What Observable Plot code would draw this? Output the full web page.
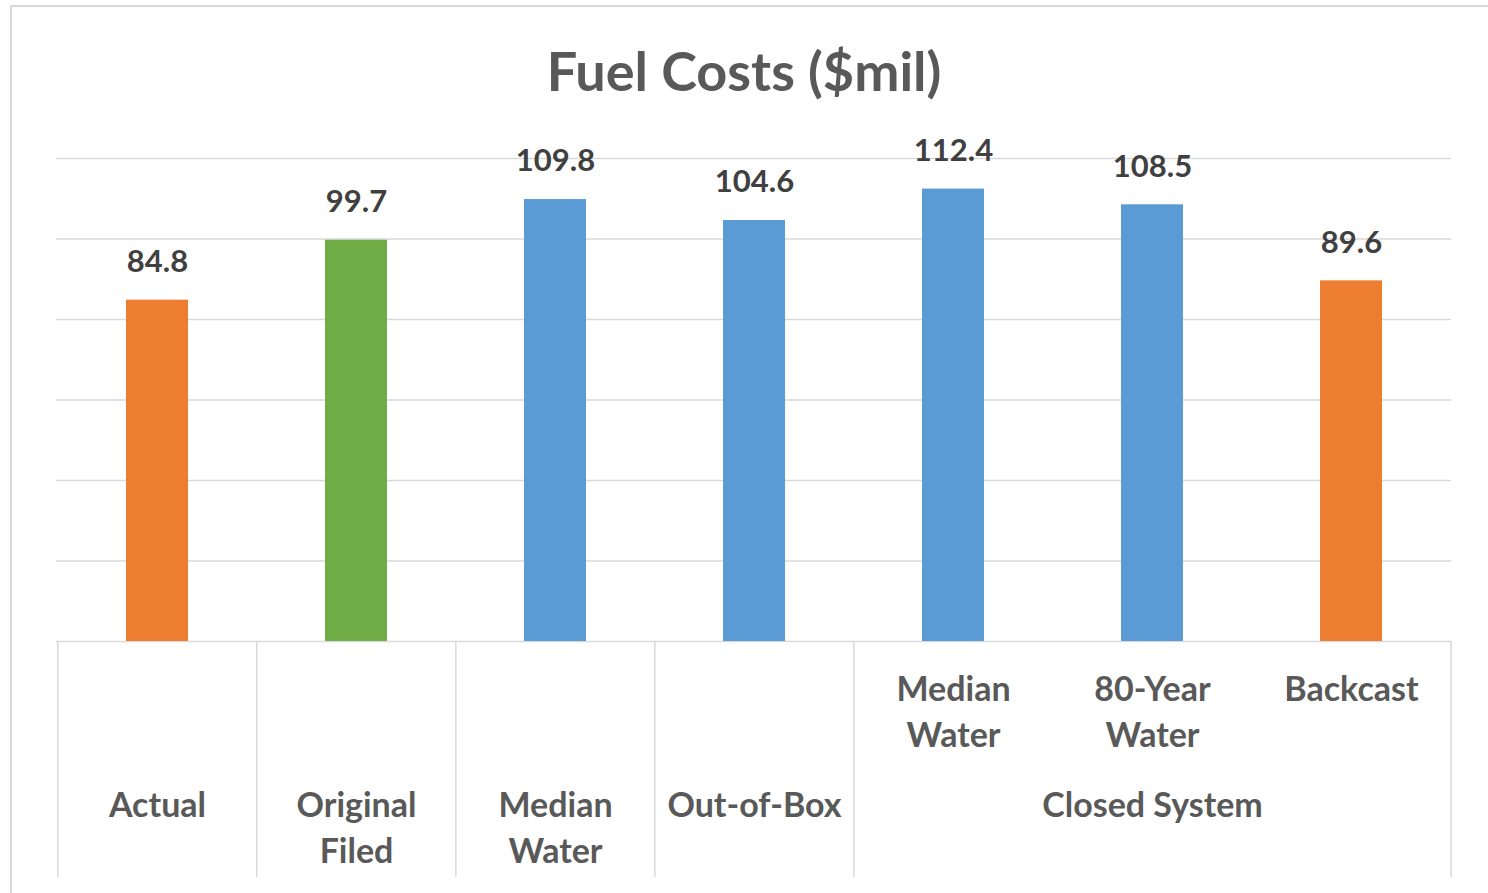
<!DOCTYPE html>
<html>
<head>
<meta charset="utf-8">
<script src="https://cdn.jsdelivr.net/npm/d3@7"></script>
<script src="https://cdn.jsdelivr.net/npm/@observablehq/plot@0.6"></script>
<style>
  html, body { margin: 0; padding: 0; background: #fff; overflow: hidden; }
  #frame {
    position: absolute; left: 10px; top: 5px; width: 1500px; height: 900px;
    border: 2px solid #d9d9d9; box-sizing: border-box; z-index: 2; pointer-events: none;
  }
  #title {
    position: absolute; left: 0; top: 0; width: 1488px; height: 120px;
    display: flex; align-items: center; justify-content: center;
    font-family: Lato, "Open Sans", sans-serif; font-size: 54px; font-weight: 700;
    color: #595959; padding-top: 20px; box-sizing: border-box;
  }
  #chart { position: absolute; left: 0; top: 120px; }
</style>
</head>
<body>
<div id="frame"></div>
<div id="title">Fuel Costs ($mil)</div>
<div id="chart"></div>
<script>
// Fuel cost scenarios, $ million
const keys = ["actual", "original", "median", "outOfBox", "closedMedian", "closed80", "backcast"];
const labels = ["Actual", "Original\nFiled", "Median\nWater", "Out-of-Box", "Median\nWater", "80-Year\nWater", "Backcast"];
const groups = [null, null, null, null, "Closed System", "Closed System", "Closed System"];
const values = [84.8, 99.7, 109.8, 104.6, 112.4, 108.5, 89.6];
const colors = ["#ED7D31", "#70AD47", "#5B9BD5", "#5B9BD5", "#5B9BD5", "#5B9BD5", "#ED7D31"];
const gridTicks = [0, 20, 40, 60, 80, 100, 120];

const rows = keys.map((k, i) => ({key: k, label: labels[i], group: groups[i], value: values[i], color: colors[i]}));

const width = 1488, height = 773;
const marginLeft = 56, marginRight = 37, marginTop = 38, marginBottom = 252;
const plotH = height - marginTop - marginBottom;
const pxPerUnit = plotH / 120;
const step = (width - marginLeft - marginRight) / keys.length;
const axisDepth = 236; // px below the baseline where the category dividers end

// Category blocks: a divider at the left edge of each top-level block, plus the right end
const dividers = [];
rows.forEach((d, i) => {
  if (i === 0 || d.group == null || d.group !== rows[i - 1].group) dividers.push({key: d.key, dx: -step / 2});
});
dividers.push({key: keys[keys.length - 1], dx: step / 2});

// Labels: plain categories in the lower row, sub-categories above their group label
const topLevel = rows.filter(d => d.group == null);
const subLevel = rows.filter(d => d.group != null);
const groupLabels = d3.groups(subLevel, d => d.group).map(([g, items]) => ({
  group: g, key: items[Math.floor(items.length / 2)].key
}));

const font = "Lato, 'Open Sans', sans-serif";
const labelStyle = {lineAnchor: "top", lineHeight: 1.35, fontSize: 34, fontWeight: 700, fill: "#595959"};
const chart = Plot.plot({
  width, height, marginLeft, marginRight, marginTop, marginBottom,
  style: {fontFamily: font, background: "transparent"},
  x: {domain: keys, paddingInner: 0.69, paddingOuter: 0.345, axis: null},
  y: {domain: [0, 120], axis: null},
  marks: [
    Plot.gridY(gridTicks, {stroke: "#d9d9d9", strokeOpacity: 1, strokeWidth: 1.5}),
    Plot.barY(rows, {x: "key", y: "value", fill: "color"}),
    Plot.text(rows, {x: "key", y: "value", text: d => d.value.toFixed(1), dy: -38,
      fontSize: 31, fontWeight: 700, fill: "#404040"}),
    ...dividers.map(d => Plot.ruleX([d], {x: "key", dx: d.dx, y1: 0, y2: -axisDepth / pxPerUnit,
      stroke: "#d9d9d9", strokeWidth: 1.5})),
    Plot.text(topLevel, {x: "key", y: 0, text: "label", dy: 143, ...labelStyle}),
    Plot.text(subLevel, {x: "key", y: 0, text: "label", dy: 27, ...labelStyle}),
    Plot.text(groupLabels, {x: "key", y: 0, text: "group", dy: 143, ...labelStyle})
  ]
});
document.getElementById("chart").appendChild(chart);
</script>
</body>
</html>
